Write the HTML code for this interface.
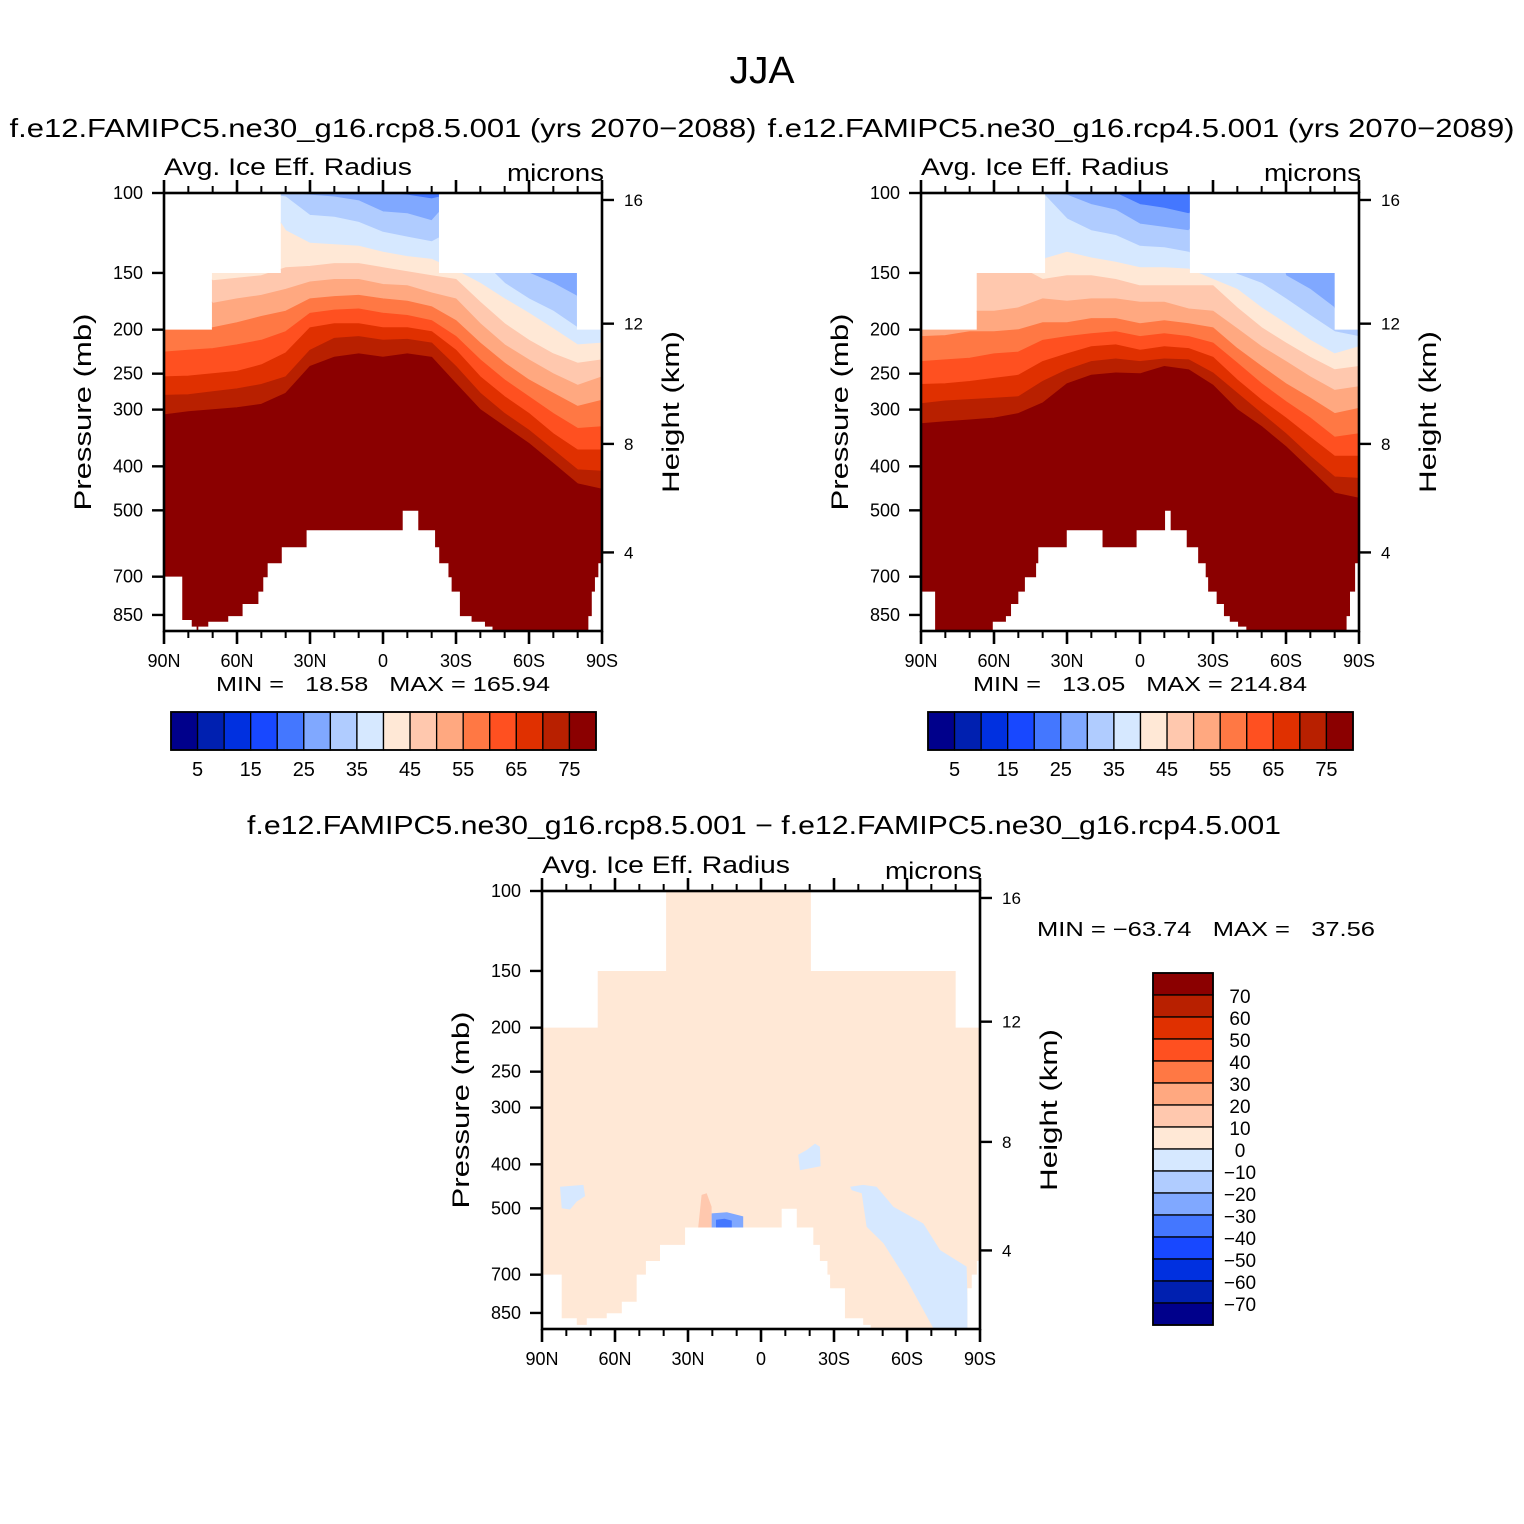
<!DOCTYPE html>
<html><head><meta charset="utf-8"><title>JJA Avg. Ice Eff. Radius</title>
<style>
html,body{margin:0;padding:0;background:#fff;}
svg{display:block;}
text{font-family:"Liberation Sans",sans-serif;fill:#000;}
</style></head>
<body>
<svg id="fig" width="1524" height="1524" viewBox="0 0 1524 1524" xmlns="http://www.w3.org/2000/svg">
<rect x="0" y="0" width="1524" height="1524" fill="#fff"/>
<text x="762" y="83" font-size="38" text-anchor="middle" textLength="65" lengthAdjust="spacingAndGlyphs">JJA</text>
<text x="383" y="137" font-size="26" text-anchor="middle" textLength="747" lengthAdjust="spacingAndGlyphs">f.e12.FAMIPC5.ne30_g16.rcp8.5.001 (yrs 2070−2088)</text>
<text x="1141" y="137" font-size="26" text-anchor="middle" textLength="747" lengthAdjust="spacingAndGlyphs">f.e12.FAMIPC5.ne30_g16.rcp4.5.001 (yrs 2070−2089)</text>
<text x="764" y="834" font-size="26" text-anchor="middle" textLength="1034" lengthAdjust="spacingAndGlyphs">f.e12.FAMIPC5.ne30_g16.rcp8.5.001 − f.e12.FAMIPC5.ne30_g16.rcp4.5.001</text>
<text x="216" y="691" font-size="20" xml:space="preserve" textLength="334" lengthAdjust="spacingAndGlyphs">MIN =   18.58   MAX = 165.94</text>
<text x="973" y="691" font-size="20" xml:space="preserve" textLength="334" lengthAdjust="spacingAndGlyphs">MIN =   13.05   MAX = 214.84</text>
<text x="1037" y="936" font-size="20" xml:space="preserve" textLength="338" lengthAdjust="spacingAndGlyphs">MIN = −63.74   MAX =   37.56</text>
</svg>
<script>
// ---------- shared data ----------
const LATS = [90,80,70,60,50,40,30,20,10,0,-10,-20,-30,-40,-50,-60,-70,-80,-90];
const LEVELS = [25,30,35,40,45,50,55,60,65,70,75];
const BAND_COLORS = ['#4477ff','#80a8ff','#b0ccff','#d6e8ff','#ffe8d6','#ffc8ae','#ffa880','#ff7844','#ff5020','#e03000','#b82000','#8b0000'];
const CB_COLORS = ['#00008b','#0020b0','#0030e0','#1848ff','#4477ff','#80a8ff','#b0ccff','#d6e8ff','#ffe8d6','#ffc8ae','#ffa880','#ff7844','#ff5020','#e03000','#b82000','#8b0000'];
const CB_LEVELS = [5,10,15,20,25,30,35,40,45,50,55,60,65,70,75];
const DIFF_LEVELS = [70,60,50,40,30,20,10,0,-10,-20,-30,-40,-50,-60,-70];
const P_TICKS = [100,150,200,250,300,400,500,700,850];
const H_TICK_LABELS = [16,12,8,4];
const H_TICK_P = [103.6,194,357,619];
const LAT_TICKS = [90,60,30,0,-30,-60,-90];
const LAT_TICK_LABELS = ['90N','60N','30N','0','30S','60S','90S'];
const LAT_MINOR = [80,70,50,40,20,10,-10,-20,-40,-50,-70,-80];

// ---------- panel 1 (rcp8.5) ----------
const p1_b25 = [100,100,100,100,100,100,100,100,100,100,101,103,100,100,100,100,100,100,100];
const p1_b30 = [100,100,100,100,100,100,101,102,104,110,111,115,100,110,120,150,158,169,178];
const p1_b35 = [100,100,100,100,100,102,112,113,116,122,125,128,120,140,158,171,182,198,191];
const p1_b40 = [100,100,100,100,100,121,129,130,131,135,138,140,148,158,171,184,199,216,214];
const p1_b45 = [100,140,156,154,152,146,145,143,143,146,149,152,155,174,194,211,226,237,233];
const p1_b50 = [100,150,175,171,168,163,157,155,155,159,160,166,171,194,216,233,250,265,254];
const p1_b55 = [195,199,198,193,187,182,171,169,168,171,173,178,191,214,237,258,276,295,286];
const p1_b60 = [224,222,220,216,211,202,184,181,180,184,186,191,207,233,258,281,306,330,327];
const p1_b65 = [254,253,250,247,239,225,198,194,194,198,198,202,222,254,281,306,339,368,368];
const p1_b70 = [279,278,274,270,264,254,222,209,207,211,210,214,241,276,306,333,368,407,410];
const p1_b75 = [308,303,300,297,292,276,241,230,226,230,226,230,263,300,327,356,394,437,449];
const p1_topEdges = [90,70.3,42,-23,-79.7,-90];
const p1_topP = [200,150,100,150,200];
const p1_botEdges = [90,82.5,78.6,76.6,75.9,71.8,63.6,57.7,51.2,49.2,47.4,41.6,31.4,-8.1,-14.5,-21.4,-23.1,-26.9,-28.2,-31.6,-36.4,-41.9,-45,-84.4,-85.8,-87.1,-88.5,-90];
const p1_botP = [700,872,902,918,902,880,855,804,755,702,654,603,553,501,553,603,654,702,755,855,880,902,922,855,755,702,654];

// ---------- panel 2 (rcp4.5) ----------
const p2_b25 = [100,100,100,100,100,100,100,100,100,106,108,111,100,100,100,100,100,100,100];
const p2_b30 = [100,100,100,100,100,100,101,106,109,117,119,121,100,100,100,152,163,179,184];
const p2_b35 = [100,100,100,100,100,100,114,121,124,131,132,135,140,151,158,171,186,202,207];
const p2_b40 = [100,100,100,100,100,140,135,139,142,146,146,147,155,163,179,194,211,226,218];
const p2_b45 = [100,100,145,145,145,155,152,152,155,160,160,160,160,179,198,214,230,245,241];
const p2_b50 = [100,100,182,182,179,171,173,171,171,174,174,180,182,199,218,235,254,272,267];
const p2_b55 = [207,206,202,202,200,193,193,189,189,194,191,194,198,220,241,263,283,306,298];
const p2_b60 = [235,233,231,226,224,211,207,204,202,207,204,207,214,237,263,288,313,345,339];
const p2_b65 = [264,263,260,256,252,235,226,218,216,222,218,220,230,258,286,313,345,380,380];
const p2_b70 = [291,287,285,283,281,260,245,235,232,235,232,233,249,276,306,339,380,422,425];
const p2_b75 = [322,319,316,313,306,290,263,252,249,250,241,245,265,300,327,362,407,458,470];
const p2_topEdges = [90,67.1,39,-20.5,-80,-90];
const p2_topP = [200,150,100,150,200];
const p2_botEdges = [90,84.2,65.1,60.5,55.1,53,50,47.3,42.7,41.8,30.1,15.4,1.4,-10.3,-12.6,-19.2,-23.9,-27,-28,-31.5,-34.5,-36.9,-40.3,-43.7,-84.9,-86.3,-88.4,-90];
const p2_botP = [755,922,918,880,855,804,755,702,654,603,553,603,553,501,553,603,654,702,755,804,855,880,902,922,855,755,654];

// ---------- panel 3 (difference) ----------
const p3_topEdges = [90,67.1,39,-20.5,-80,-90];
const p3_topP = [200,150,100,150,200];
const p3_botEdges = [90,81.9,75.7,71.6,63.4,57.2,51.1,47.3,41.5,31.2,-8.5,-14.7,-21.5,-24.2,-27.3,-28.4,-34.5,-42.0,-45.1,-84.8,-86.6,-88.7,-90];
const p3_botP = [700,873,903,873,851,803,700,653,602,551,501,551,602,653,700,750,873,903,922,750,700,653];
const d_base = 5;
const dA_lat = [-36.6,-42.0,-47.5,-54.4,-66.7,-73.6,-84.5,-85.2,-70.8,-59.9,-50.3,-43.4,-41.4,-37.3];
const dA_p = [448,444,448,496,540,618,672,918,918,719,597,549,463,456];
const dA_val = -5;
const dB_lat = [82.6,73.0,72.3,75.7,78.5,81.9];
const dB_p = [448,444,470,483,503,500];
const dB_val = -5;
const dC_lat = [-15.3,-18.8,-22.2,-24.2,-24.5,-16.0];
const dC_p = [381,372,360,366,404,412];
const dC_val = -5;
const dD_lat = [20.3,14,7.3,7.3,20.3];
const dD_p = [513,510,521,551,551];
const dD_val = -25;
const dE_lat = [18.5,15,12,12,18.5];
const dE_p = [530,527,532,551,551];
const dE_val = -35;
const dF_lat = [25.8,24.4,22.3,20.3,20.3];
const dF_p = [551,467,463,496,551];
const dF_val = 15;

// ---------- helpers ----------
const NS = 'http://www.w3.org/2000/svg';
const svg = document.getElementById('fig');
const W = 438, H = 438, PBOT = 100*Math.pow(10, 438/454);
function mk(tag, attrs, parent){
  const e = document.createElementNS(NS, tag);
  for (const k in attrs) e.setAttribute(k, attrs[k]);
  (parent||svg).appendChild(e);
  return e;
}
function diffColor(v){
  let idx = 0;
  for (let i=0;i<DIFF_LEVELS.length;i++){ if (v >= DIFF_LEVELS[i]) { idx = 15 - i; break; } }
  return CB_COLORS[idx];
}
function makeScales(x0, y0){
  return {
    x: lat => x0 + (90 - lat)/180*W,
    y: p => y0 + 454*Math.log10(Math.min(p,PBOT)/100)
  };
}
function maskPath(s, topEdges, topP, botEdges, botP){
  let d = '';
  for (let i=0;i<topP.length;i++){
    d += (i===0?'M':'L') + s.x(topEdges[i]) + ',' + s.y(topP[i]) + ' L' + s.x(topEdges[i+1]) + ',' + s.y(topP[i]) + ' ';
  }
  for (let j=botP.length-1;j>=0;j--){
    d += 'L' + s.x(botEdges[j+1]) + ',' + s.y(botP[j]) + ' L' + s.x(botEdges[j]) + ',' + s.y(botP[j]) + ' ';
  }
  return d + 'Z';
}

function drawAxes(pn, x0, y0){
  const s = makeScales(x0, y0);
  const g = mk('g', {});
  
  
  const fr = mk('rect', {x:x0, y:y0, width:W, height:H, fill:'none', stroke:'#000', 'stroke-width':2.6}, g);
  
  
  P_TICKS.forEach(p => {
    const y = s.y(p);
    const t = mk('line', {x1:x0-12, x2:x0, y1:y, y2:y, stroke:'#000', 'stroke-width':2.4}, g);
    
    
    const lb = mk('text', {x:x0-21, y:y+6, 'font-size':18, 'text-anchor':'end'}, g);
    lb.textContent = p;
    
    
  });
  H_TICK_P.forEach((p,i) => {
    const y = s.y(p);
    const t = mk('line', {x1:x0+W, x2:x0+W+12, y1:y, y2:y, stroke:'#000', 'stroke-width':2.4}, g);
    
    
    const lb = mk('text', {x:x0+W+22, y:y+6, 'font-size':17}, g);
    lb.textContent = H_TICK_LABELS[i];
    
    
  });
  LAT_TICKS.forEach((lat,i) => {
    const x = s.x(lat);
    const t1 = mk('line', {x1:x, x2:x, y1:y0+H, y2:y0+H+13, stroke:'#000', 'stroke-width':2.6}, g);
    
    
    const t2 = mk('line', {x1:x, x2:x, y1:y0, y2:y0-13, stroke:'#000', 'stroke-width':2.6}, g);
    
    
    const lb = mk('text', {x:x, y:y0+H+36, 'font-size':18, 'text-anchor':'middle'}, g);
    lb.textContent = LAT_TICK_LABELS[i];
    
    
  });
  LAT_MINOR.forEach(lat => {
    const x = s.x(lat);
    const t1 = mk('line', {x1:x, x2:x, y1:y0+H, y2:y0+H+7, stroke:'#000', 'stroke-width':2}, g);
    
    
    const t2 = mk('line', {x1:x, x2:x, y1:y0, y2:y0-7, stroke:'#000', 'stroke-width':2}, g);
    
    
  });
  const a = mk('text', {x:x0, y:y0-18, 'font-size':24, textLength:248, lengthAdjust:'spacingAndGlyphs'}, g);
  a.textContent = 'Avg. Ice Eff. Radius';
  
  
  const m = mk('text', {x:x0+W+2, y:y0-12, 'font-size':24, 'text-anchor':'end', textLength:97, lengthAdjust:'spacingAndGlyphs'}, g);
  m.textContent = 'microns';
  
  
  const yt = mk('text', {x:0, y:0, 'font-size':24, 'text-anchor':'middle', textLength:197, lengthAdjust:'spacingAndGlyphs', transform:'translate('+(x0-73)+','+(y0+219)+') rotate(-90)'}, g);
  yt.textContent = 'Pressure (mb)';
  
  
  const ht = mk('text', {x:0, y:0, 'font-size':24, 'text-anchor':'middle', textLength:162, lengthAdjust:'spacingAndGlyphs', transform:'translate('+(x0+W+77)+','+(y0+219)+') rotate(-90)'}, g);
  ht.textContent = 'Height (km)';
  
  
}

function drawContourPanel(pn, x0, y0, bounds, topEdges, topP, botEdges, botP){
  const s = makeScales(x0, y0);
  const defs = mk('defs', {});
  const cp = mk('clipPath', {id:'clip'+pn}, defs);
  mk('path', {d: maskPath(s, topEdges, topP, botEdges, botP)}, cp);
  const g = mk('g', {'clip-path':'url(#clip'+pn+')'});
  
  
  const top = LATS.map(() => 100);
  const bot = LATS.map(() => PBOT);
  for (let k=0;k<BAND_COLORS.length;k++){
    const up = k===0 ? top : bounds[k-1];
    const lo = k===bounds.length ? bot : bounds[k];
    let d = '';
    LATS.forEach((lat,i) => { d += (i===0?'M':'L') + s.x(lat).toFixed(1) + ',' + s.y(up[i]).toFixed(1) + ' '; });
    for (let i=LATS.length-1;i>=0;i--) d += 'L' + s.x(LATS[i]).toFixed(1) + ',' + s.y(lo[i]).toFixed(1) + ' ';
    const band = mk('path', {d: d+'Z', fill: BAND_COLORS[k], stroke: BAND_COLORS[k], 'stroke-width':0.8}, g);
    
    
  }
  drawAxes(pn, x0, y0);
}

function drawHColorbar(pn, x0, y0){
  const g = mk('g', {});
  
  
  const bw = 425/CB_COLORS.length;
  CB_COLORS.forEach((c,i) => {
    const r = mk('rect', {x:x0+i*bw, y:y0, width:bw, height:38, fill:c, stroke:'#000', 'stroke-width':1.3}, g);
    
    
  });
  mk('rect', {x:x0, y:y0, width:425, height:38, fill:'none', stroke:'#000', 'stroke-width':1.8}, g);
  CB_LEVELS.forEach((v,i) => {
    if (i % 2 !== 0) return;
    const lb = mk('text', {x:x0+(i+1)*bw, y:y0+64, 'font-size':20, 'text-anchor':'middle'}, g);
    lb.textContent = v;
    
    
  });
}

function drawDiffPanel(x0, y0){
  const s = makeScales(x0, y0);
  const defs = mk('defs', {});
  const cp = mk('clipPath', {id:'clip3'}, defs);
  mk('path', {d: maskPath(s, p3_topEdges, p3_topP, p3_botEdges, p3_botP)}, cp);
  const g = mk('g', {'clip-path':'url(#clip3)'});
  
  
  const base = mk('rect', {x:x0, y:y0, width:W, height:H, fill: diffColor(d_base)}, g);
  
  
  const patches = [[dA_lat,dA_p,dA_val,'diff-negative-region-south'],[dB_lat,dB_p,dB_val,'diff-negative-region-north'],[dC_lat,dC_p,dC_val,'diff-negative-region-mid'],[dD_lat,dD_p,dD_val,'diff-negative-region-tropics'],[dE_lat,dE_p,dE_val,'diff-strong-negative-core'],[dF_lat,dF_p,dF_val,'diff-positive-spike']];
  patches.forEach(pt => {
    let d = '';
    pt[0].forEach((lat,i) => { d += (i===0?'M':'L') + s.x(lat).toFixed(1) + ',' + s.y(pt[1][i]).toFixed(1) + ' '; });
    const e = mk('path', {d: d+'Z', fill: diffColor(pt[2]), 'stroke-linejoin':'round'}, g);
    
    
  });
  drawAxes(3, x0, y0);
}

function drawVColorbar(x0, y0){
  const g = mk('g', {});
  
  
  const bh = 352/CB_COLORS.length;
  for (let i=0;i<CB_COLORS.length;i++){
    const r = mk('rect', {x:x0, y:y0+i*bh, width:60, height:bh, fill:CB_COLORS[15-i], stroke:'#000', 'stroke-width':1.3}, g);
    
    
  }
  mk('rect', {x:x0, y:y0, width:60, height:352, fill:'none', stroke:'#000', 'stroke-width':1.8}, g);
  DIFF_LEVELS.forEach((v,i) => {
    const lb = mk('text', {x:x0+87, y:y0+(i+1)*bh+8, 'font-size':19, 'text-anchor':'middle'}, g);
    lb.textContent = v < 0 ? '\u2212' + Math.abs(v) : String(v);
    
    
  });
}

drawContourPanel(1, 164, 193, [p1_b25,p1_b30,p1_b35,p1_b40,p1_b45,p1_b50,p1_b55,p1_b60,p1_b65,p1_b70,p1_b75], p1_topEdges, p1_topP, p1_botEdges, p1_botP);
drawContourPanel(2, 921, 193, [p2_b25,p2_b30,p2_b35,p2_b40,p2_b45,p2_b50,p2_b55,p2_b60,p2_b65,p2_b70,p2_b75], p2_topEdges, p2_topP, p2_botEdges, p2_botP);
drawHColorbar(1, 171, 712);
drawHColorbar(2, 928, 712);
drawDiffPanel(542, 891);
drawVColorbar(1153, 973);
</script>
</body></html>
